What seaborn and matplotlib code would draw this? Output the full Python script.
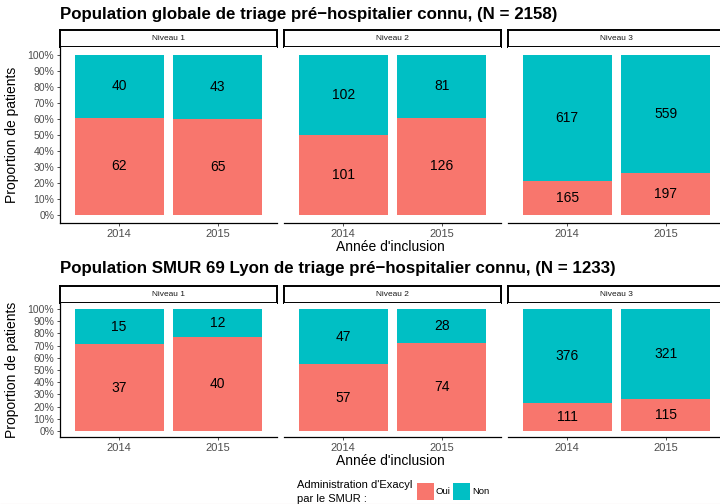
import matplotlib
matplotlib.use("Agg")
import matplotlib.pyplot as plt
from matplotlib.patches import Rectangle
from matplotlib.lines import Line2D
import seaborn as sns
import pandas as pd

# ---- data ----
years = ["2014", "2015"]
niveaux = ["Niveau 1", "Niveau 2", "Niveau 3"]
glob_oui = [62, 65, 101, 126, 165, 197]
glob_non = [40, 43, 102, 81, 617, 559]
lyon_oui = [37, 40, 57, 74, 111, 115]
lyon_non = [15, 12, 47, 28, 376, 321]
titles = ["Population globale de triage pr\u00e9\u2212hospitalier connu, (N = 2158)",
          "Population SMUR 69 Lyon de triage pr\u00e9\u2212hospitalier connu, (N = 1233)"]
yticks = [i / 10 for i in range(11)]
ytick_labels = [f"{i*10}%" for i in range(11)]
legend_labels = ["Oui", "Non"]
legend_title = ["Administration d'Exacyl", "par le SMUR :"]

sns.set_theme(style="white")
plt.rcParams["font.family"] = ["Liberation Sans", "DejaVu Sans"]

C_OUI = "#F8766D"
C_NON = "#00BFC4"
W, H = 720, 504
fig = plt.figure(figsize=(7.2, 5.04), dpi=100)


def rect(x0, y0, x1, y1):
    return [x0 / W, 1 - y1 / H, (x1 - x0) / W, (y1 - y0) / H]


def fx(x):
    return x / W


def fy(y):
    return 1 - y / H


panel_x = [(60, 277), (284, 501), (508, 725)]
rows = [
    dict(oui=glob_oui, non=glob_non, title=titles[0], title_y=14, strip=(30, 47),
         panel=(47, 223), xlab_y=247, ylab_y=135),
    dict(oui=lyon_oui, non=lyon_non, title=titles[1], title_y=269, strip=(286, 303),
         panel=(303, 437), xlab_y=461, ylab_y=370),
]

for r in rows:
    fig.text(fx(60), fy(r["title_y"]), r["title"], fontsize=12.2, fontweight="bold",
             ha="left", va="center", color="black")
    for k, (x0, x1) in enumerate(panel_x):
        # strip
        sa = fig.add_axes(rect(x0, r["strip"][0], x1, r["strip"][1]))
        sa.set_xticks([]); sa.set_yticks([])
        for s in sa.spines.values():
            s.set_visible(True); s.set_color("black"); s.set_linewidth(1.4)
        sa.set_facecolor("white")
        sa.text(0.5, 0.5, niveaux[k], transform=sa.transAxes, ha="center", va="center",
                fontsize=6, color="#1A1A1A")
        # panel
        ax = fig.add_axes(rect(x0, r["panel"][0], x1, r["panel"][1]))
        oui = r["oui"][2 * k:2 * k + 2]
        non = r["non"][2 * k:2 * k + 2]
        tot = [a + b for a, b in zip(oui, non)]
        df = pd.DataFrame({"year": years,
                           "total": [1.0 for _ in years],
                           "oui": [a / t for a, t in zip(oui, tot)]})
        sns.barplot(data=df, x="year", y="total", color=C_NON, width=0.9,
                    saturation=1, errorbar=None, ax=ax, linewidth=0)
        sns.barplot(data=df, x="year", y="oui", color=C_OUI, width=0.9,
                    saturation=1, errorbar=None, ax=ax, linewidth=0)
        for i in range(2):
            po = oui[i] / tot[i]
            ax.text(i, po / 2, str(oui[i]), ha="center", va="center", fontsize=10, color="black")
            ax.text(i, po + (1 - po) / 2, str(non[i]), ha="center", va="center",
                    fontsize=10, color="black")
        ax.set_xlim(-0.6, 1.6)
        ax.set_ylim(-0.05, 1.05)
        ax.set_xlabel(""); ax.set_ylabel("")
        ax.set_facecolor("white")
        ax.spines["top"].set_visible(False)
        ax.spines["right"].set_visible(False)
        ax.spines["bottom"].set_color("black")
        ax.spines["bottom"].set_linewidth(0.9)
        ax.set_xticks([0, 1])
        ax.set_xticklabels(years)
        ax.tick_params(axis="x", bottom=True, length=2.2, width=0.6, color="#333333",
                       labelsize=8, labelcolor="#4D4D4D", pad=2)
        if k == 0:
            ax.spines["left"].set_color("black")
            ax.spines["left"].set_linewidth(0.9)
            ax.set_yticks(yticks)
            ax.set_yticklabels(ytick_labels)
            ax.tick_params(axis="y", left=True, length=2.2, width=0.6, color="#333333",
                           labelsize=7.5, labelcolor="#4D4D4D", pad=2)
        else:
            ax.spines["left"].set_visible(False)
            ax.set_yticks([])
    fig.text(fx(390), fy(r["xlab_y"]), "Ann\u00e9e d'inclusion", ha="center", va="center",
             fontsize=10, color="black")
    fig.text(fx(12), fy(r["ylab_y"]), "Proportion de patients", ha="center", va="center",
             rotation=90, fontsize=10, color="black")

# legend
fig.text(fx(297), fy(485), legend_title[0], ha="left", va="center", fontsize=8, color="black")
fig.text(fx(297), fy(499), legend_title[1], ha="left", va="center", fontsize=8, color="black")
for (x0, col, lab) in [(417, C_OUI, legend_labels[0]), (453, C_NON, legend_labels[1])]:
    fig.patches.append(Rectangle((fx(x0), fy(500)), 17 / W, 17 / H, transform=fig.transFigure,
                                 facecolor=col, edgecolor="none"))
    fig.text(fx(x0 + 19), fy(491), lab, ha="left", va="center", fontsize=6.8, color="black")

fig.lines.append(Line2D([0, 1], [fy(503.5), fy(503.5)], transform=fig.transFigure,
                        color="#E6C8C8", linewidth=0.8))

fig.savefig("out.png", dpi=100, facecolor="white")
